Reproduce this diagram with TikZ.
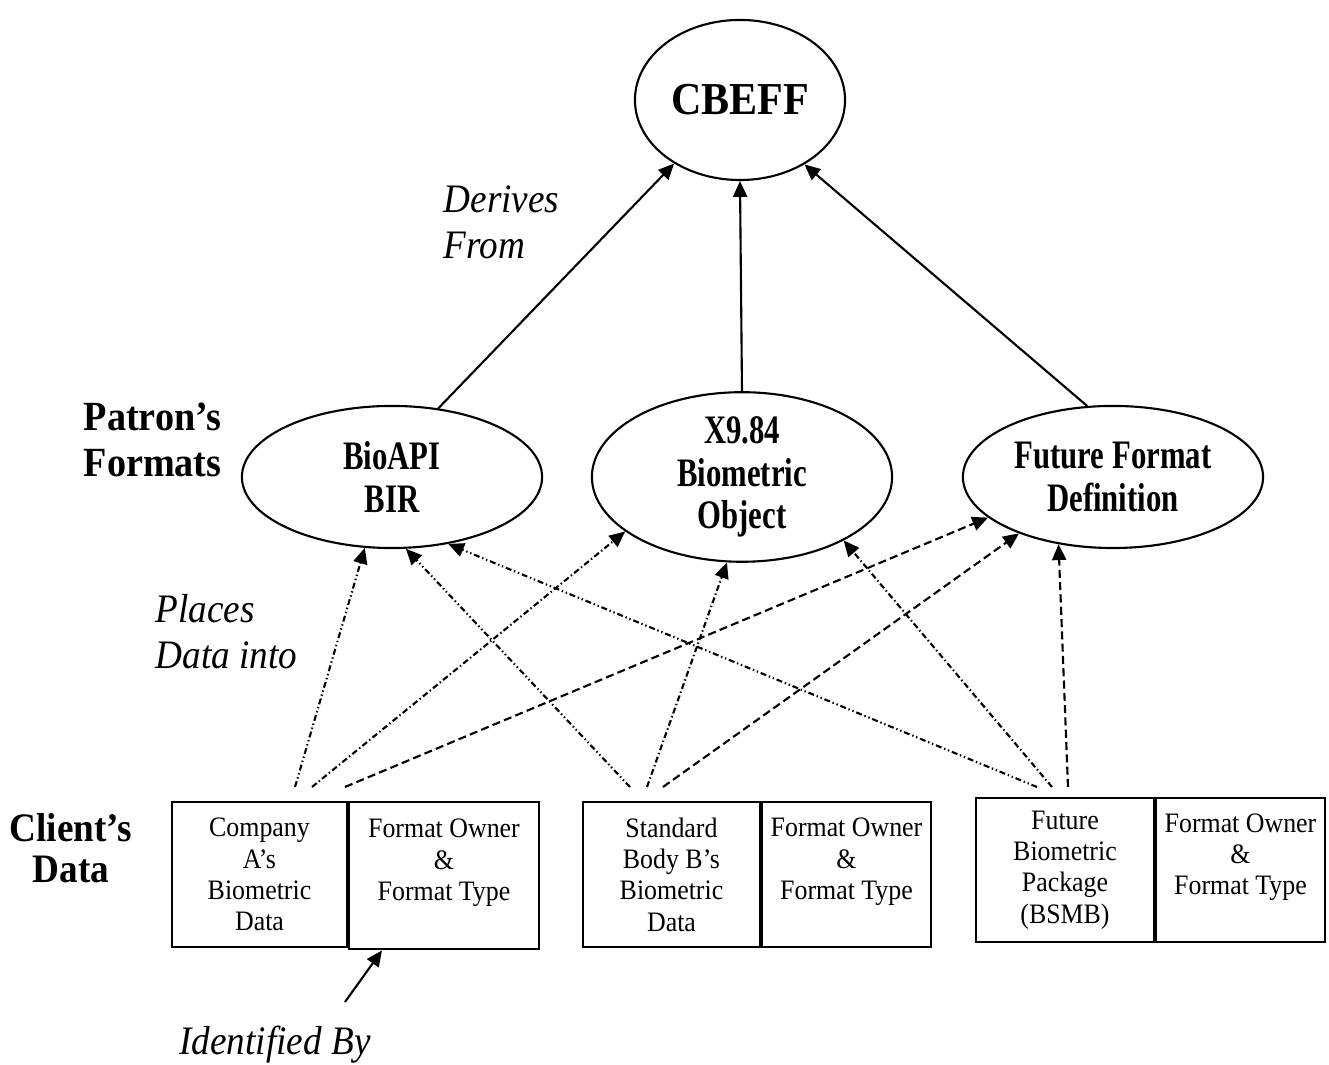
\documentclass[tikz,border=0pt]{standalone}
\usepackage{fontspec}
\setmainfont[FakeStretch=0.92]{Liberation Serif}
\newfontfamily\narrowfont[FakeStretch=0.76]{Liberation Serif}
\usetikzlibrary{arrows.meta, shapes.geometric}

\begin{document}
\begin{tikzpicture}[x=0.01cm, y=-0.01cm,
    fmt/.style={ellipse, draw, line width=0.6pt, inner sep=0pt, minimum width=3cm, minimum height=1.42cm,
        align=center, font=\narrowfont\bfseries\fontsize{11.5}{12}\selectfont},
    cell/.style={rectangle, draw, line width=0.8pt, inner sep=0pt, minimum height=1.45cm,
        align=center, font=\fontsize{8}{8.9}\selectfont},
    tag/.style={align=left, inner sep=0pt, font=\itshape\fontsize{11.5}{13}\selectfont},
    head/.style={align=left, inner sep=0pt, font=\bfseries\fontsize{11.8}{13}\selectfont},
    feed/.style={-{Triangle[length=4.5pt, width=4pt]}, line width=0.6pt},
    dashline/.style={dash pattern=on 2.3pt off 1.2pt},
    dashdotline/.style={dash pattern=on 1.7pt off 0.8pt on 0.4pt off 0.8pt},
    dashdotdotline/.style={dash pattern=on 1.7pt off 0.8pt on 0.4pt off 0.8pt on 0.4pt off 0.8pt}]
    \useasboundingbox (0,0) rectangle (1329,1065);

    % top level
    \node [ellipse, draw, line width=0.6pt, inner sep=0pt, minimum width=2.1cm, minimum height=1.6cm,
        font=\bfseries\fontsize{13}{15}\selectfont] (cbeff) at (740,100) {CBEFF};

    % patron's formats
    \node [fmt] (bioapi) at (392,477) {BioAPI\\BIR};
    \node [fmt] (x984) at (742,477) {X9.84\\Biometric\\Object};
    \node [fmt] (future) at (1113,477) {Future Format\\Definition};

    \draw [feed] (bioapi.56) -- (cbeff.224);
    \draw [feed] (x984.north) -- (cbeff.south);
    \draw [feed] (future.110) -- (cbeff.-45);

    % client's data
    \node [cell, minimum width=1.75cm] (dataA) at (259.5,874.5) {Company\\A’s\\Biometric\\Data};
    \node [cell, minimum width=1.9cm, minimum height=1.47cm] (ownerA) at (444,875.5) {Format Owner\\\&\\Format Type\\~};
    \node [cell, minimum width=1.77cm] (dataB) at (671.5,874.5) {Standard\\Body B’s\\Biometric\\Data};
    \node [cell, minimum width=1.69cm] (ownerB) at (846.5,874.5) {Format Owner\\\&\\Format Type\\~};
    \node [cell, minimum width=1.78cm, minimum height=1.44cm] (dataC) at (1065,870) {Future\\Biometric\\Package\\(BSMB)};
    \node [cell, minimum width=1.69cm, minimum height=1.44cm] (ownerC) at (1240.5,870) {Format Owner\\\&\\Format Type\\~};

    \coordinate (a1) at (295,787);
    \coordinate (a2) at (312,787);
    \coordinate (a3) at (345,787);
    \coordinate (b1) at (630,787);
    \coordinate (b2) at (647,787);
    \coordinate (b3) at (663,787);
    \coordinate (c1) at (1037,787);
    \coordinate (c2) at (1052,787);
    \coordinate (c3) at (1068,787);

    \draw [feed, dashdotdotline] (a1) -- (bioapi.-111);
    \draw [feed, dashdotline] (a2) -- (x984.205);
    \draw [feed, dashline] (a3) -- (future.198);
    \draw [feed, dashdotdotline] (b1) -- (bioapi.-79);
    \draw [feed, dashdotline] (b2) -- (x984.-100);
    \draw [feed, dashline] (b3) -- (future.211);
    \draw [feed, dashdotdotline] (c1) -- (bioapi.-50);
    \draw [feed, dashdotline] (c2) -- (x984.-32);
    \draw [feed, dashline] (c3) -- (future.231);

    % labels
    \node [tag, anchor=west] (derives) at (443,222) {Derives\\From};
    \node [head, anchor=west] (patron) at (83,440) {Patron’s\\Formats};
    \node [tag, anchor=west] (places) at (155,632) {Places\\Data into};
    \node [head, align=center, font=\bfseries\fontsize{11.5}{11.8}\selectfont] (client) at (71,848) {Client’s\\Data};
    \node [tag] (ident) at (275,1045) {Identified By};
    \coordinate (identtail) at (345,1002);
    \draw [feed] (identtail) -- (ownerA.south west -| 382,0);
\end{tikzpicture}
\end{document}
